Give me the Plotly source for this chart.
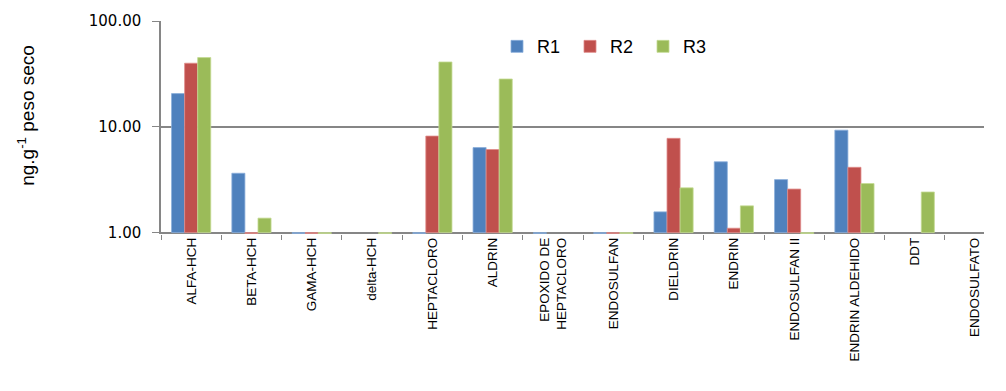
import math
import plotly.graph_objects as go

categories = ["ALFA-HCH", "BETA-HCH", "GAMA-HCH", "delta-HCH", "HEPTACLORO", "ALDRIN",
              "EPOXIDO DE<br>HEPTACLORO", "ENDOSULFAN", "DIELDRIN", "ENDRIN", "ENDOSULFAN II",
              "ENDRIN ALDEHIDO", "DDT", "ENDOSULFATO"]
r1 = [20.6, 3.64, 0.98, None, 0.98, 6.36, 0.98, 0.98, 1.57, 4.67, 3.17, 9.29, None, None]
r2 = [39.9, 0.98, 0.98, None, 8.17, 6.10, None, 0.98, 7.78, 1.10, 2.58, 4.14, None, None]
r3 = [45.1, 1.37, 0.98, 0.98, 41.0, 28.3, None, 0.98, 2.65, 1.79, 0.98, 2.91, 2.42, None]
series_names = ["R1", "R2", "R3"]
colors = ["#4F81BD", "#C0504D", "#9BBB59"]
edge_colors = ["#8AAEDB", "#E08C8A", "#C4DB93"]
tick_vals = [1, 10, 100]
tick_text = ["1.00", "10.00", "100.00"]
y_title = "ng.g<sup>-1</sup> peso seco"

fig = go.Figure()
for name, vals, c, ec in zip(series_names, [r1, r2, r3], colors, edge_colors):
    fig.add_trace(go.Bar(
        x=categories, y=[None if v is None else v - 1 for v in vals],
        base=1, name=name,
        marker=dict(color=c, line=dict(color=ec, width=0.8)),
    ))

W, H = 1006, 391
left, right, top, bottom = 161, 984, 18, 233.7
ymin = math.log10(0.97)

fig.update_layout(
    width=W, height=H,
    margin=dict(l=left, r=W - right, t=top, b=H - bottom, pad=0),
    paper_bgcolor="white", plot_bgcolor="white",
    barmode="group", bargap=0.35, bargroupgap=0.0,
    font=dict(family="Liberation Sans, Arial, sans-serif", color="#000000"),
    showlegend=True,
    legend=dict(orientation="h", x=(497 - left) / (right - left), xanchor="left",
                y=(bottom - 44) / (bottom - top), yanchor="middle",
                font=dict(size=18, family="Liberation Sans Narrow, Liberation Sans, Arial"),
                entrywidth=28, entrywidthmode="pixels",
                bgcolor="rgba(0,0,0,0)", borderwidth=0,
                traceorder="normal"),
    annotations=[dict(text=y_title, textangle=-90, xref="paper", yref="paper",
                      x=(26 - left) / (right - left), y=(bottom - 114) / (bottom - top),
                      xanchor="center", yanchor="middle", showarrow=False,
                      font=dict(size=19))],
)
fig.update_xaxes(
    type="category", tickson="boundaries", ticks="outside", ticklen=5,
    tickcolor="#868686", tickwidth=1.3, tickangle=-90,
    tickfont=dict(size=13.5), showgrid=False, showline=False,
    range=[-0.5, -0.5 + (right - left) / 60.3],
)
fig.update_yaxes(
    type="log", range=[ymin, 2], tickvals=tick_vals, ticktext=tick_text,
    ticks="outside", ticklen=7, tickcolor="#868686", tickwidth=1.3,
    ticklabelstandoff=8,
    showline=True, linecolor="#868686", linewidth=1.5,
    showgrid=True, gridcolor="#868686", gridwidth=1.5,
    tickfont=dict(size=15, family="DejaVu Sans, Verdana, sans-serif"), zeroline=False,
)

fig.write_html("out.html", config={"displayModeBar": False},
               post_script="document.body.style.margin='0';")
